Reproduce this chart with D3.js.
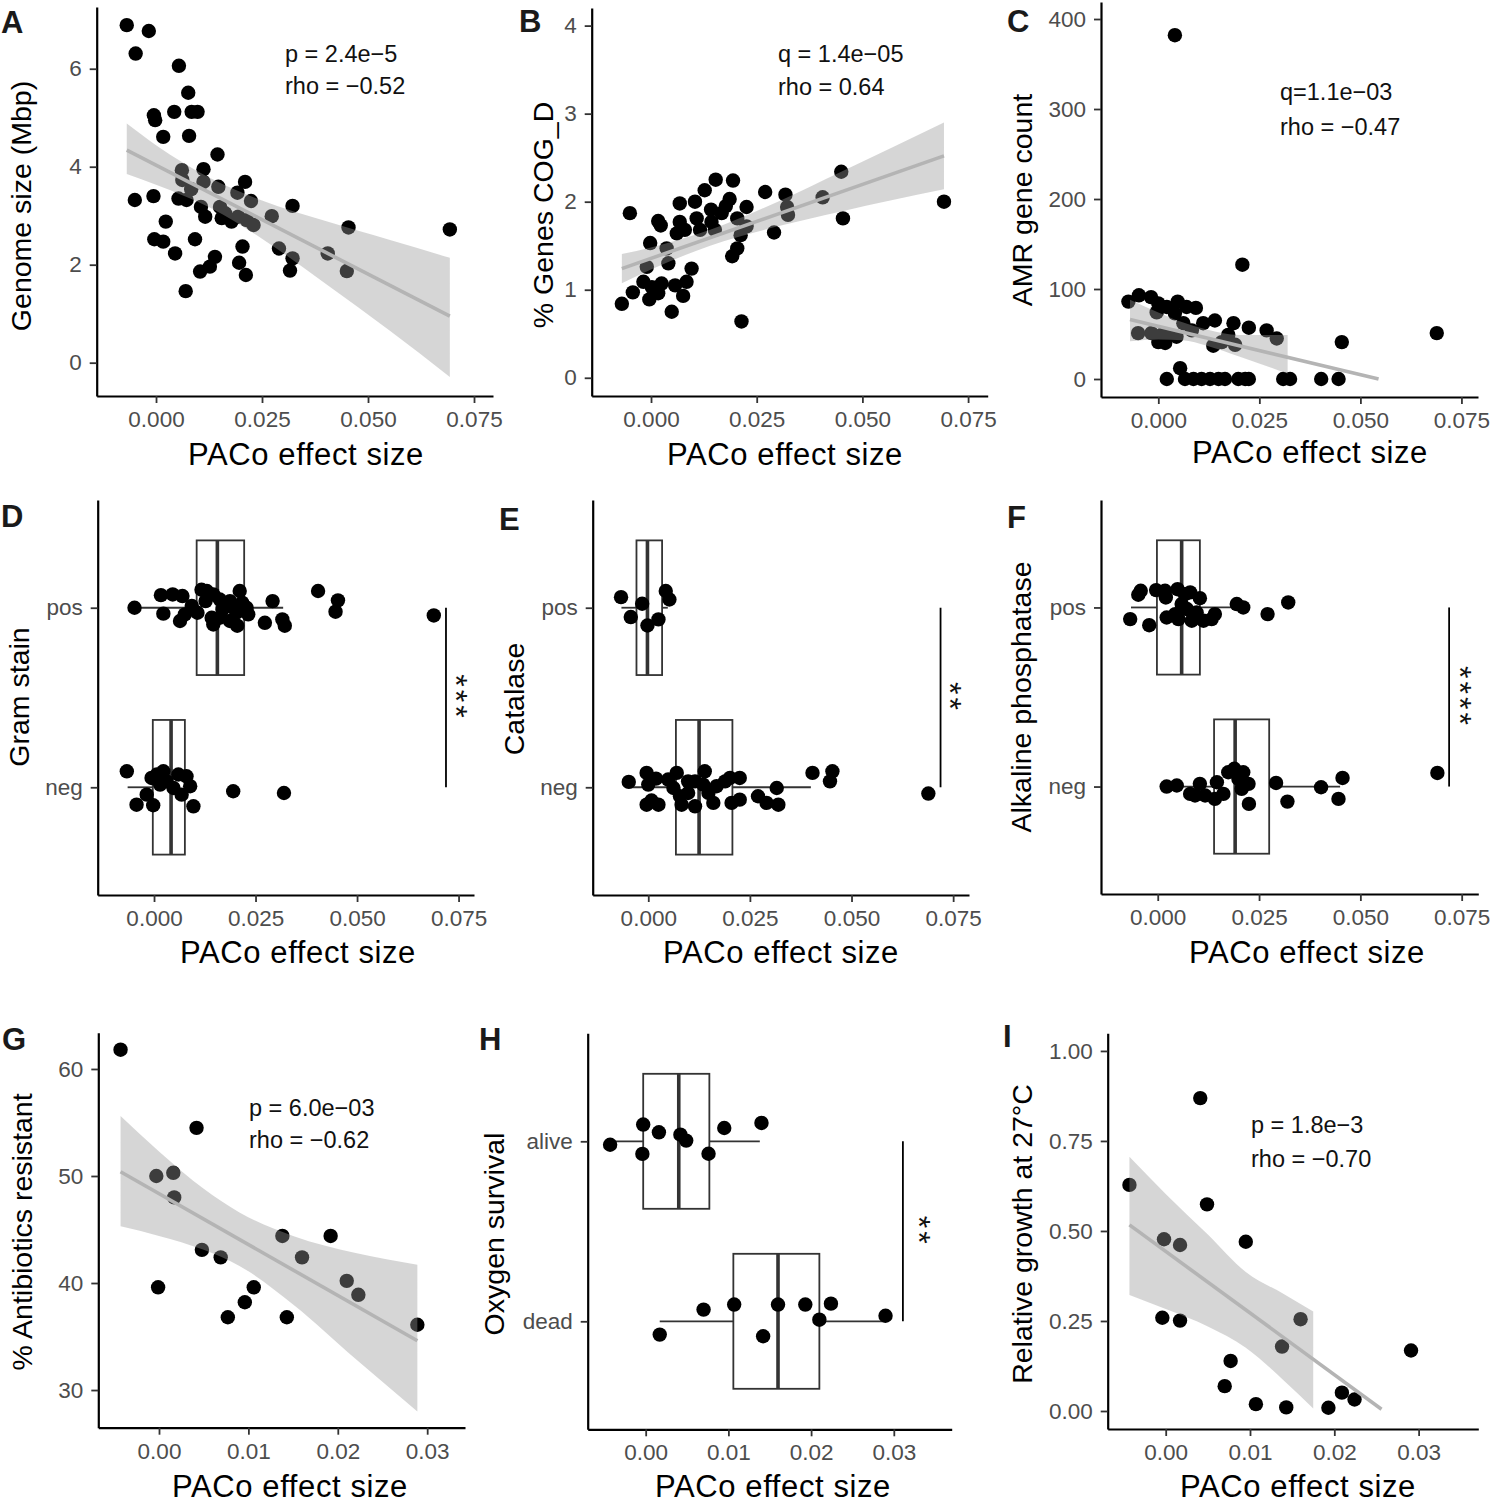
<!DOCTYPE html>
<html><head><meta charset="utf-8">
<script src="https://cdn.jsdelivr.net/npm/d3@7"></script>
<style>
body{margin:0;background:#fff}
svg{display:block}
text{font-family:"Liberation Sans",Arial,Helvetica,sans-serif}
</style>
</head><body>
<svg id="c" width="1492" height="1503"></svg>
<script>
// ---------------- DATA ----------------
const ticksWide = [0, 0.025, 0.05, 0.075];
const ticksNarrow = [0, 0.01, 0.02, 0.03];
const genomeTicks = [0, 2, 4, 6];
const cogTicks = [0, 1, 2, 3, 4];
const amrTicks = [0, 100, 200, 300, 400];
const abTicks = [30, 40, 50, 60];
const growthTicks = [0, 0.25, 0.5, 0.75, 1.0];
const posNeg = ["neg", "pos"];
const aliveDead = ["dead", "alive"];

// A: PACo effect size vs genome size (Mbp)
const genomeSize = [[-0.0069,6.89],[-0.0017,6.77],[-0.0048,6.31],[0.0054,6.06],[0.0076,5.51],[-0.0005,5.05],[-0.0002,4.95],[0.0043,5.12],[0.0084,5.12],[0.0098,5.12],[0.0017,4.61],[0.0078,4.63],[0.0145,4.25],[0.0061,3.93],[0.0112,3.95],[0.0062,3.73],[0.0112,3.69],[0.0147,3.59],[0.0210,3.69],[0.0192,3.47],[0.0224,3.30],[-0.0006,3.40],[-0.0050,3.32],[0.0083,3.54],[0.0053,3.35],[0.0072,3.32],[0.0106,3.18],[0.0151,3.18],[0.0163,3.05],[0.0116,2.98],[0.0155,2.95],[0.0178,2.88],[0.0194,2.98],[0.0214,2.91],[0.0230,2.81],[0.0273,2.99],[0.0322,3.20],[0.0023,2.88],[-0.0004,2.52],[0.0017,2.47],[0.0092,2.52],[0.0045,2.23],[0.0204,2.37],[0.0139,2.16],[0.0127,1.96],[0.0104,1.86],[0.0196,2.04],[0.0212,1.79],[0.0290,2.33],[0.0322,2.13],[0.0316,1.88],[0.0405,2.23],[0.0450,1.87],[0.0454,2.76],[0.0693,2.72],[0.0070,1.46]];
const genomeFit = [[-0.0069,4.34],[0.0693,0.95]];
const genomeBand = [[-0.0069,3.85,4.88],[0.0,3.63,4.44],[0.013,3.15,3.76],[0.025,2.53,3.31],[0.04,1.61,2.89],[0.055,0.66,2.51],[0.0693,-0.29,2.14]];

// B: % genes COG_D
const cogD = [[-0.0069,0.84],[-0.0050,1.87],[-0.0043,0.97],[-0.0004,0.89],[-0.0002,1.53],[0.0017,1.78],[0.0023,1.73],[-0.0010,1.26],[-0.0018,1.09],[0.0002,1.03],[0.0017,0.96],[0.0025,1.07],[0.0037,1.47],[0.0041,1.30],[0.0049,0.75],[0.0057,1.05],[0.0061,1.64],[0.0068,1.98],[0.0068,1.77],[0.0080,1.68],[0.0076,0.93],[0.0084,1.09],[0.0096,1.24],[0.0104,2.00],[0.0108,1.81],[0.0116,1.68],[0.0127,2.13],[0.0142,1.91],[0.0143,1.77],[0.0153,2.25],[0.0151,1.68],[0.0167,1.87],[0.0177,1.95],[0.0186,2.03],[0.0194,2.24],[0.0192,1.38],[0.0204,1.47],[0.0204,1.81],[0.0212,1.62],[0.0226,1.94],[0.0226,1.72],[0.0214,0.64],[0.0270,2.11],[0.0291,1.65],[0.0318,2.08],[0.0322,1.94],[0.0324,1.85],[0.0406,2.05],[0.0450,2.34],[0.0454,1.81],[0.0693,2.00]];
const cogFit = [[-0.0069,1.24],[0.0693,2.52]];
const cogBand = [[-0.0069,1.075,1.405],[0.0,1.23,1.48],[0.014,1.50,1.68],[0.03,1.72,2.00],[0.045,1.89,2.34],[0.0693,2.14,2.90]];

// C: AMR gene count
const amrCount = [[0.0041,382],[0.0208,127],[0.0689,51],[0.0454,41],[-0.0074,86],[-0.0048,93],[-0.0018,91],[0.0000,84],[0.0021,80],[0.0048,86],[0.0070,80],[0.0093,79],[-0.0004,74],[0.0041,73],[0.0062,62],[0.0111,62],[0.0140,65],[0.0186,62],[0.0224,57],[0.0268,54],[0.0293,45],[-0.0050,51],[-0.0017,51],[0.0008,49],[0.0025,49],[0.0045,47],[0.0000,41],[0.0017,40],[0.0136,37],[0.0157,41],[0.0173,49],[0.0190,38],[0.0083,54],[0.0021,0],[0.0054,12],[0.0066,0],[0.0087,0],[0.0107,0],[0.0128,0],[0.0149,0],[0.0165,0],[0.0198,0],[0.0215,0],[0.0224,0],[0.0309,0],[0.0326,0],[0.0403,0],[0.0446,0]];
const amrFit = [[-0.007,66],[0.0545,0]];
const amrBand = [[-0.007,42,88],[0.0,44,74],[0.006,43,63],[0.012,37,55],[0.02,25,49],[0.032,6,49]];

// D: Gram stain  [x, category, jitter]
const gramPts = [[-0.0048,"pos",0],[0.0017,"pos",-0.07],[0.0046,"pos",-0.074],[0.0070,"pos",-0.065],[0.0023,"pos",0.033],[0.0064,"pos",0.074],[0.0076,"pos",0.037],[0.0107,"pos",0.028],[0.0117,"pos",-0.10],[0.0130,"pos",-0.093],[0.0146,"pos",-0.074],[0.0162,"pos",-0.046],[0.0093,"pos",-0.01],[0.0142,"pos",0.056],[0.0146,"pos",0.093],[0.0162,"pos",0.056],[0.0187,"pos",-0.037],[0.0195,"pos",0],[0.0187,"pos",0.074],[0.0205,"pos",0.10],[0.0211,"pos",-0.093],[0.0217,"pos",-0.028],[0.0228,"pos",0],[0.0232,"pos",0.037],[0.0203,"pos",0.028],[0.0169,"pos",0.009],[0.0127,"pos",-0.037],[0.0273,"pos",0.084],[0.0292,"pos",-0.037],[0.0316,"pos",0.065],[0.0322,"pos",0.10],[0.0404,"pos",-0.093],[0.0453,"pos",-0.041],[0.0447,"pos",0.022],[0.0689,"pos",0.043],
 [-0.0067,"neg",-0.089],[-0.0043,"neg",0.097],[-0.0002,"neg",0.10],[-0.0018,"neg",0.041],[-0.0006,"neg",-0.052],[0.0007,"neg",-0.071],[0.0023,"neg",-0.089],[0.0015,"neg",-0.015],[0.0031,"neg",-0.033],[0.0048,"neg",0.004],[0.0060,"neg",-0.071],[0.0068,"neg",0.041],[0.0080,"neg",-0.061],[0.0089,"neg",-0.006],[0.0097,"neg",0.106],[0.0195,"neg",0.022],[0.0320,"neg",0.032]];
const gramBoxes = [{cat:"pos",lo:-0.0048,q1:0.0105,med:0.0156,q3:0.0222,hi:0.0318},{cat:"neg",lo:-0.0065,q1:-0.0003,med:0.0042,q3:0.0076,hi:0.0097}];

// E: Catalase
const catalasePts = [[-0.0067,"pos",-0.059],[-0.0043,"pos",0.052],[-0.0015,"pos",-0.022],[-0.0002,"pos",0.099],[0.0025,"pos",0.065],[0.0043,"pos",-0.093],[0.0052,"pos",-0.046],
 [-0.0048,"neg",-0.03],[-0.0004,"neg",-0.08],[0.0000,"neg",-0.015],[0.0019,"neg",-0.048],[-0.0004,"neg",0.097],[0.0025,"neg",0.097],[0.0008,"neg",0.074],[0.0049,"neg",-0.043],[0.0070,"neg",-0.08],[0.0062,"neg",0.004],[0.0078,"neg",0.05],[0.0082,"neg",0.097],[0.0098,"neg",0.032],[0.0115,"neg",0.106],[0.0115,"neg",-0.033],[0.0139,"neg",-0.089],[0.0135,"neg",-0.015],[0.0160,"neg",0.087],[0.0168,"neg",-0.006],[0.0189,"neg",-0.033],[0.0201,"neg",-0.052],[0.0225,"neg",-0.052],[0.0205,"neg",0.087],[0.0225,"neg",0.069],[0.0270,"neg",0.05],[0.0291,"neg",0.087],[0.0316,"neg",0.004],[0.0320,"neg",0.097],[0.0404,"neg",-0.08],[0.0453,"neg",-0.089],[0.0447,"neg",-0.033],[0.0689,"neg",0.035],[0.0098,"neg",-0.033],[0.0148,"neg",0.032]];
const catalaseBoxes = [{cat:"pos",lo:-0.0066,q1:-0.0029,med:-0.0002,q3:0.0034,hi:0.0048},{cat:"neg",lo:-0.0047,q1:0.0068,med:0.0125,q3:0.0207,hi:0.040}];

// F: Alkaline phosphatase
const alkPts = [[-0.0068,"pos",0.065],[-0.0048,"pos",-0.071],[-0.0042,"pos",-0.093],[-0.0021,"pos",0.099],[-0.0004,"pos",-0.097],[0.0018,"pos",-0.093],[0.0020,"pos",-0.056],[0.0049,"pos",-0.102],[0.0080,"pos",-0.084],[0.0104,"pos",-0.052],[0.0022,"pos",0.056],[0.0043,"pos",0.037],[0.0051,"pos",0.065],[0.0059,"pos",-0.019],[0.0072,"pos",0.009],[0.0084,"pos",0.074],[0.0096,"pos",0.028],[0.0113,"pos",0.074],[0.0133,"pos",0.065],[0.0141,"pos",0.037],[0.0195,"pos",-0.019],[0.0211,"pos",0],[0.0271,"pos",0.037],[0.0322,"pos",-0.028],[0.0067,"pos",-0.074],
 [0.0022,"neg",0],[0.0047,"neg",-0.006],[0.0080,"neg",0.041],[0.0104,"neg",-0.015],[0.0092,"neg",0.05],[0.0117,"neg",0.05],[0.0141,"neg",0.069],[0.0146,"neg",-0.024],[0.0162,"neg",0.041],[0.0174,"neg",-0.08],[0.0189,"neg",-0.099],[0.0211,"neg",-0.08],[0.0199,"neg",-0.043],[0.0207,"neg",0.013],[0.0224,"neg",-0.015],[0.0225,"neg",0.097],[0.0292,"neg",-0.02],[0.0320,"neg",0.084],[0.0403,"neg",0.004],[0.0456,"neg",-0.048],[0.0446,"neg",0.069],[0.0690,"neg",-0.076]];
const alkBoxes = [{cat:"pos",lo:-0.0066,q1:-0.0002,med:0.0059,q3:0.0104,hi:0.0211},{cat:"neg",lo:0.0018,q1:0.0139,med:0.0191,q3:0.0275,hi:0.045}];

// G: % antibiotics resistant
const abResist = [[-0.0043,61.8],[0.0042,54.5],[-0.0003,50.0],[0.0016,50.3],[0.0017,48.0],[0.0048,43.1],[0.0069,42.4],[-0.0001,39.6],[0.0106,39.6],[0.0096,38.2],[0.0077,36.8],[0.0138,44.4],[0.0143,36.8],[0.0160,42.4],[0.0192,44.4],[0.0210,40.2],[0.0223,38.9],[0.0289,36.1]];
const abFit = [[-0.0043,50.4],[0.0289,34.6]];
const abBand = [[-0.0043,45.3,55.6],[0.0,44.4,52.3],[0.005,43.1,48.8],[0.009,41.6,46.6],[0.015,38.0,44.4],[0.022,32.9,42.8],[0.0289,28.0,41.7]];

// H: Oxygen survival
const oxyPts = [[-0.0043,"alive",0.019],[-0.0003,"alive",-0.093],[-0.0004,"alive",0.07],[0.0016,"alive",-0.05],[0.0042,"alive",-0.037],[0.0049,"alive",-0.004],[0.0076,"alive",0.069],[0.0095,"alive",-0.074],[0.0140,"alive",-0.102],
 [0.0017,"dead",0.074],[0.0070,"dead",-0.065],[0.0107,"dead",-0.093],[0.0160,"dead",-0.093],[0.0142,"dead",0.083],[0.0193,"dead",-0.093],[0.0210,"dead",-0.009],[0.0224,"dead",-0.098],[0.0290,"dead",-0.031]];
const oxyBoxes = [{cat:"alive",lo:-0.0043,q1:-0.0003,med:0.0040,q3:0.0077,hi:0.0138},{cat:"dead",lo:0.0017,q1:0.0106,med:0.0160,q3:0.0210,hi:0.029}];

// I: Relative growth at 27°C
const growth27 = [[0.0041,0.869],[-0.0043,0.628],[0.0049,0.574],[-0.0002,0.477],[0.0017,0.461],[0.0095,0.470],[-0.0004,0.259],[0.0017,0.251],[0.0160,0.255],[0.0138,0.179],[0.0077,0.139],[0.0070,0.069],[0.0107,0.019],[0.0143,0.010],[0.0193,0.009],[0.0209,0.051],[0.0224,0.032],[0.0291,0.168]];
const growthFit = [[-0.0043,0.517],[0.0256,0.005]];
const growthBand = [[-0.0043,0.322,0.706],[0.0,0.283,0.603],[0.005,0.235,0.49],[0.0095,0.176,0.386],[0.014,0.085,0.325],[0.0175,0.007,0.276]];

// ---------------- DRAWING ----------------
const svg = d3.select("#c");
const R = 7.2;
const fmt3 = d3.format(".3f"), fmt2 = d3.format(".2f");

function styleAxis(g){
  g.select(".domain").attr("stroke","#000").attr("stroke-width",2.2);
  g.selectAll(".tick line").attr("stroke","#333").attr("stroke-width",1.8);
  g.selectAll(".tick text").attr("fill","#4d4d4d").attr("font-size","22.5px")
    .attr("font-family",'"Liberation Sans",Arial,sans-serif');
}

function common(c, x, y, yAxis){
  const gx = svg.append("g").attr("transform",`translate(0,${c.yRange[0]})`)
    .call(d3.axisBottom(x).tickValues(c.xTicks).tickFormat(c.xFmt).tickSize(7).tickPadding(8).tickSizeOuter(0));
  styleAxis(gx);
  const gy = svg.append("g").attr("transform",`translate(${c.xRange[0]},0)`).call(yAxis);
  styleAxis(gy);
  svg.append("text").attr("x",c.xTitle[0]).attr("y",c.xTitle[1]).attr("text-anchor","middle")
    .attr("font-size","31px").attr("letter-spacing","0.6px").attr("fill","#000").text("PACo effect size");
  svg.append("text").attr("transform",`translate(${c.yTitle[0]},${c.yTitle[1]}) rotate(-90)`)
    .attr("text-anchor","middle").attr("font-size","28.5px").attr("fill","#000").text(c.yLabel);
  svg.append("text").attr("x",c.letter[0]).attr("y",c.letter[1])
    .attr("font-family",'"DejaVu Sans Condensed","DejaVu Sans",sans-serif').attr("font-weight","bold")
    .attr("font-size","31px").attr("fill","#1a1a1a").text(c.letterText);
}

function scatter(c){
  const x = d3.scaleLinear().domain(c.xDom).range(c.xRange);
  const y = d3.scaleLinear().domain(c.yDom).range(c.yRange);
  const yAxis = d3.axisLeft(y).tickValues(c.yTicks).tickFormat(c.yFmt).tickSize(7).tickPadding(8).tickSizeOuter(0);
  common(c, x, y, yAxis);
  svg.append("g").selectAll("circle").data(c.pts).join("circle")
    .attr("cx",d=>x(d[0])).attr("cy",d=>y(d[1])).attr("r",R).attr("fill","#000");
  const area = d3.area().x(d=>x(d[0])).y0(d=>y(d[1])).y1(d=>y(d[2])).curve(d3.curveMonotoneX);
  svg.append("path").datum(c.band).attr("d",area).attr("fill","#999").attr("fill-opacity",0.4);
  svg.append("path").datum(c.fit).attr("d",d3.line().x(d=>x(d[0])).y(d=>y(d[1])))
    .attr("stroke","#b4b4b4").attr("stroke-width",3.6).attr("fill","none");
  c.ann.forEach((t,i)=>{
    svg.append("text").attr("x",c.annPos[0]).attr("y",c.annPos[1]+i*c.annGap)
      .attr("font-size","23.5px").attr("fill","#111").text(t);
  });
}

function boxes(c){
  const x = d3.scaleLinear().domain(c.xDom).range(c.xRange);
  const y = d3.scaleLinear().domain([-0.6,1.6]).range(c.yRange);
  const ci = k => c.cats.indexOf(k);
  const yAxis = d3.axisLeft(y).tickValues([0,1]).tickFormat(i=>c.cats[i]).tickSize(7).tickPadding(8).tickSizeOuter(0);
  common(c, x, y, yAxis);
  const g = svg.append("g");
  c.boxes.forEach(b=>{
    const yc = y(ci(b.cat)), yt = y(ci(b.cat)+0.375), yb = y(ci(b.cat)-0.375);
    g.append("line").attr("x1",x(b.lo)).attr("x2",x(b.q1)).attr("y1",yc).attr("y2",yc).attr("stroke","#333").attr("stroke-width",1.8);
    g.append("line").attr("x1",x(b.q3)).attr("x2",x(b.hi)).attr("y1",yc).attr("y2",yc).attr("stroke","#333").attr("stroke-width",1.8);
    g.append("rect").attr("x",x(b.q1)).attr("y",yt).attr("width",x(b.q3)-x(b.q1)).attr("height",yb-yt)
      .attr("fill","none").attr("stroke","#333").attr("stroke-width",1.8);
    g.append("line").attr("x1",x(b.med)).attr("x2",x(b.med)).attr("y1",yt).attr("y2",yb).attr("stroke","#333").attr("stroke-width",3.6);
  });
  svg.append("g").selectAll("circle").data(c.pts).join("circle")
    .attr("cx",d=>x(d[0])).attr("cy",d=>y(ci(d[1])-d[2])).attr("r",R).attr("fill","#000");
  const sx = x(c.sigX);
  svg.append("line").attr("x1",sx).attr("x2",sx).attr("y1",y(1)).attr("y2",y(0)).attr("stroke","#000").attr("stroke-width",1.8);
  // rotated 90deg: glyph tops point to the right; asterisk centre sits ~0.58em above baseline
  svg.append("text").attr("transform",`translate(${sx+c.starDx-0.58*32},${(y(1)+y(0))/2}) rotate(90)`)
    .attr("text-anchor","middle").attr("font-size","32px").attr("letter-spacing","3px").attr("fill","#111").text(c.stars);
}

// A
scatter({xDom:[-0.01399,0.07948], xRange:[96.7,493], yDom:[-0.68,7.26], yRange:[396,7],
  xTicks:ticksWide, xFmt:fmt3, yTicks:genomeTicks, yFmt:d3.format("d"),
  pts:genomeSize, fit:genomeFit, band:genomeBand,
  ann:["p = 2.4e\u22125","rho = \u22120.52"], annPos:[285,62], annGap:32,
  xTitle:[306,465], yTitle:[31,206], yLabel:"Genome size (Mbp)", letter:[1,33], letterText:"A"});
// B
scatter({xDom:[-0.01403,0.07964], xRange:[591.7,987.7], yDom:[-0.207,4.2], yRange:[396,8],
  xTicks:ticksWide, xFmt:fmt3, yTicks:cogTicks, yFmt:d3.format("d"),
  pts:cogD, fit:cogFit, band:cogBand,
  ann:["q = 1.4e\u221205","rho = 0.64"], annPos:[778,62], annGap:33,
  xTitle:[785,465], yTitle:[553,215], yLabel:"% Genes COG_D", letter:[519,32], letterText:"B"});
// C
scatter({xDom:[-0.01418,0.0791], xRange:[1101,1478], yDom:[-20,418.9], yRange:[397,2],
  xTicks:ticksWide, xFmt:fmt3, yTicks:amrTicks, yFmt:d3.format("d"),
  pts:amrCount, fit:amrFit, band:amrBand,
  ann:["q=1.1e\u221203","rho = \u22120.47"], annPos:[1280,100], annGap:35,
  xTitle:[1310,463], yTitle:[1032,200], yLabel:"AMR gene count", letter:[1007,32], letterText:"C"});
// D
boxes({xDom:[-0.01387,0.0788], xRange:[97.7,474], yRange:[895,500], cats:posNeg,
  xTicks:ticksWide, xFmt:fmt3, boxes:gramBoxes, pts:gramPts, sigX:0.0719, starDx:18, stars:"***",
  xTitle:[298,963], yTitle:[29,697], yLabel:"Gram stain", letter:[1,527], letterText:"D"});
// E
boxes({xDom:[-0.01367,0.0789], xRange:[592.7,969], yRange:[895,500], cats:posNeg,
  xTicks:ticksWide, xFmt:fmt3, boxes:catalaseBoxes, pts:catalasePts, sigX:0.0719, starDx:17, stars:"**",
  xTitle:[781,963], yTitle:[524,699], yLabel:"Catalase", letter:[499,530], letterText:"E"});
// F
boxes({xDom:[-0.0140,0.0791], xRange:[1101,1478.3], yRange:[894,500], cats:posNeg,
  xTicks:ticksWide, xFmt:fmt3, boxes:alkBoxes, pts:alkPts, sigX:0.0719, starDx:18, stars:"****",
  xTitle:[1307,963], yTitle:[1031,697], yLabel:"Alkaline phosphatase", letter:[1007,528], letterText:"F"});
// G
scatter({xDom:[-0.00679,0.03423], xRange:[98.3,465], yDom:[26.48,63.39], yRange:[1427.7,1032.7],
  xTicks:ticksNarrow, xFmt:fmt2, yTicks:abTicks, yFmt:d3.format("d"),
  pts:abResist, fit:abFit, band:abBand,
  ann:["p = 6.0e\u221203","rho = \u22120.62"], annPos:[249,1116], annGap:32,
  xTitle:[290,1497], yTitle:[32,1232], yLabel:"% Antibiotics resistant", letter:[2,1050], letterText:"G"});
// H
boxes({xDom:[-0.00701,0.0370], xRange:[587.7,951.7], yRange:[1429.3,1033.3], cats:aliveDead,
  xTicks:ticksNarrow, xFmt:fmt2, boxes:oxyBoxes, pts:oxyPts, sigX:0.0311, starDx:24, stars:"**",
  xTitle:[773,1497], yTitle:[504,1234], yLabel:"Oxygen survival", letter:[479,1050], letterText:"H"});
// I
scatter({xDom:[-0.00688,0.03708], xRange:[1107.7,1478.3], yDom:[-0.05,1.049], yRange:[1429,1033.3],
  xTicks:ticksNarrow, xFmt:fmt2, yTicks:growthTicks, yFmt:fmt2,
  pts:growth27, fit:growthFit, band:growthBand,
  ann:["p = 1.8e\u22123","rho = \u22120.70"], annPos:[1251,1133], annGap:33.5,
  xTitle:[1298,1497], yTitle:[1032,1234], yLabel:"Relative growth at 27\u00b0C", letter:[1003,1047], letterText:"I"});
</script>
</body></html>
